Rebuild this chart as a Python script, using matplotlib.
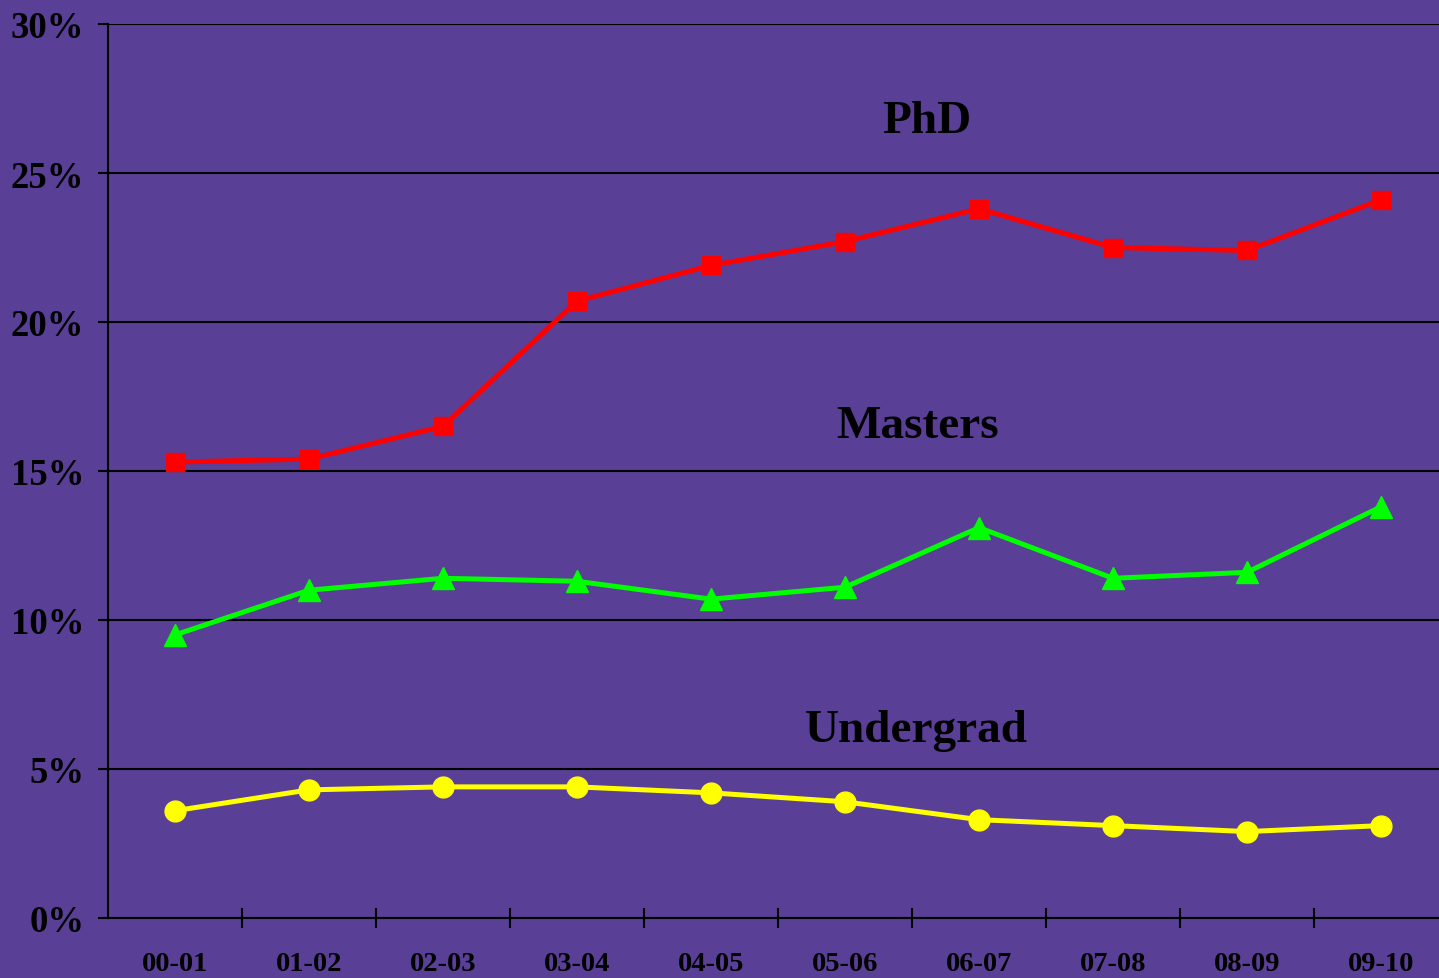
import matplotlib.pyplot as plt
from matplotlib.ticker import FixedLocator, PercentFormatter

# ------------------------------------------------------------------------------
years = ["00-01", "01-02", "02-03", "03-04", "04-05",
         "05-06", "06-07", "07-08", "08-09", "09-10"]
phd = [15.3, 15.4, 16.5, 20.7, 21.9, 22.7, 23.8, 22.5, 22.4, 24.1]
masters = [9.5, 11.0, 11.4, 11.3, 10.7, 11.1, 13.1, 11.4, 11.6, 13.8]
undergrad = [3.6, 4.3, 4.4, 4.4, 4.2, 3.9, 3.3, 3.1, 2.9, 3.1]
yticks = [0, 5, 10, 15, 20, 25, 30]

bg = "#5a3f96"
font = "Liberation Serif"

fig = plt.figure(figsize=(14.39, 9.79), dpi=100, facecolor=bg)
ax = fig.add_axes([108 / 1439, 60 / 979, 1 - 108 / 1439, 894 / 979])
ax.set_facecolor(bg)

x = list(range(len(years)))
ax.plot(x, phd, color="#ff0000", lw=3.6, marker="s", ms=13.5, zorder=3)
ax.plot(x, masters, color="#00ff00", lw=3.6, marker="^", ms=15.5, zorder=3)
ax.plot(x, undergrad, color="#ffff00", lw=3.6, marker="o", ms=15, zorder=3)

# labels on the chart
ax.text(5.61, 26.75, "PhD", ha="center", va="center", fontsize=34,
        fontweight="bold", family=font, color="black")
ax.text(5.54, 16.5, "Masters", ha="center", va="center", fontsize=34,
        fontweight="bold", family=font, color="black")
ax.text(5.53, 6.3, "Undergrad", ha="center", va="center", fontsize=34,
        fontweight="bold", family=font, color="black")

ax.set_xlim(-0.5, 9.5 - 9 / 134)
ax.set_ylim(0, 30)

ax.set_yticks(yticks)
ax.yaxis.set_major_formatter(PercentFormatter(decimals=0))
ax.grid(axis="y", color="black", lw=1.5, zorder=1)
ax.tick_params(axis="y", direction="out", length=7, width=1.5, pad=10,
               labelsize=26.5)

ax.set_xticks(x)
ax.set_xticklabels(years)
ax.xaxis.set_minor_locator(FixedLocator([i + 0.5 for i in x]))
ax.tick_params(axis="x", which="major", length=0, pad=24, labelsize=20.5)
ax.tick_params(axis="x", which="minor", direction="inout", length=14, width=1.5)

for lab in ax.get_xticklabels() + ax.get_yticklabels():
    lab.set_family(font)
    lab.set_fontweight("bold")

for side in ["top", "right"]:
    ax.spines[side].set_visible(False)
for side in ["left", "bottom"]:
    ax.spines[side].set_linewidth(1.5)
    ax.spines[side].set_zorder(2)

fig.savefig("out.png", dpi=100, facecolor=bg)
